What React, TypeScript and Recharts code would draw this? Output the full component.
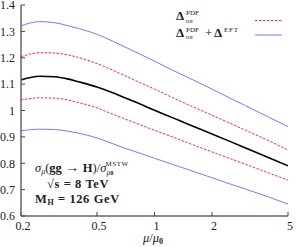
import { LineChart, Line, XAxis, YAxis } from "recharts";

const MU = [0.2, 0.25, 0.3, 0.35, 0.4, 0.5, 0.6, 0.7, 0.8, 1, 1.25, 1.5, 2, 2.5, 3, 4, 5];
const CENTRAL = [1.116, 1.13, 1.128, 1.12, 1.109, 1.089, 1.068, 1.048, 1.031, 1.001, 0.972, 0.948, 0.911, 0.882, 0.858, 0.82, 0.79];
const PDF_UP = [1.204, 1.219, 1.218, 1.211, 1.201, 1.178, 1.154, 1.132, 1.113, 1.081, 1.048, 1.022, 0.982, 0.951, 0.925, 0.884, 0.85];
const PDF_DOWN = [1.04, 1.048, 1.047, 1.04, 1.03, 1.01, 0.987, 0.968, 0.952, 0.925, 0.899, 0.877, 0.843, 0.817, 0.796, 0.762, 0.736];
const TOT_UP = [1.321, 1.337, 1.333, 1.322, 1.311, 1.289, 1.264, 1.241, 1.221, 1.187, 1.152, 1.125, 1.081, 1.046, 1.018, 0.973, 0.939];
const TOT_DOWN = [0.923, 0.929, 0.928, 0.922, 0.914, 0.896, 0.875, 0.857, 0.843, 0.819, 0.795, 0.776, 0.745, 0.721, 0.702, 0.671, 0.645];

const X_TICKS = [0.2, 0.5, 1, 2, 5];
const Y_TICKS = [0.6, 0.7, 0.8, 0.9, 1, 1.1, 1.2, 1.3, 1.4];

const RED = "#ff2a2a";
const BLUE = "#7878ff";
const FONT = "'Liberation Serif', serif";

const rows = MU.map((mu, i) => ({
  mu,
  central: CENTRAL[i],
  pdfUp: PDF_UP[i],
  pdfDown: PDF_DOWN[i],
  totUp: TOT_UP[i],
  totDown: TOT_DOWN[i],
}));

const tickStyle = { fontFamily: FONT, fontSize: 12, fill: "#222" };
const fmt = (v: number) => String(+v.toFixed(1));
const blank = () => "";

export default function App() {
  return (
    <div style={{ position: "absolute", left: 0, top: 0, width: 296, height: 247 }}>
      <LineChart
        width={296}
        height={247}
        data={rows}
        margin={{ top: 5, right: 8, bottom: 0, left: 0 }}
      >
        <XAxis
          dataKey="mu"
          type="number"
          scale="log"
          domain={[0.2, 5]}
          ticks={X_TICKS}
          allowDataOverflow
          interval={0}
          height={31}
          tickSize={-4}
          tickMargin={9}
          tickFormatter={fmt}
          tick={{ ...tickStyle, dx: 2 }}
          axisLine={{ stroke: "#666", strokeWidth: 1.5 }}
          tickLine={{ stroke: "#444" }}
        />
        <XAxis
          xAxisId="top"
          orientation="top"
          dataKey="mu"
          type="number"
          scale="log"
          domain={[0.2, 5]}
          ticks={X_TICKS}
          allowDataOverflow
          interval={0}
          height={0}
          tickSize={-4}
          tickFormatter={blank}
          axisLine={{ stroke: "#222", strokeWidth: 1 }}
          tickLine={{ stroke: "#444" }}
        />
        <YAxis
          type="number"
          domain={[0.6, 1.4]}
          ticks={Y_TICKS}
          allowDataOverflow
          interval={0}
          width={21}
          tickSize={-4}
          tickMargin={10}
          tickFormatter={fmt}
          tick={tickStyle}
          axisLine={{ stroke: "#666", strokeWidth: 1.5 }}
          tickLine={{ stroke: "#444" }}
        />
        <YAxis
          yAxisId="right"
          orientation="right"
          type="number"
          domain={[0.6, 1.4]}
          ticks={Y_TICKS}
          allowDataOverflow
          interval={0}
          width={0}
          tickSize={-4}
          tickFormatter={blank}
          axisLine={{ stroke: "#222", strokeWidth: 1 }}
          tickLine={{ stroke: "#444" }}
        />
        <Line dataKey="totUp" type="monotone" stroke={BLUE} strokeWidth={1} dot={false} isAnimationActive={false} />
        <Line dataKey="totDown" type="monotone" stroke={BLUE} strokeWidth={1} dot={false} isAnimationActive={false} />
        <Line dataKey="pdfUp" type="monotone" stroke={RED} strokeWidth={1} strokeDasharray="2.5 1.5" dot={false} isAnimationActive={false} />
        <Line dataKey="pdfDown" type="monotone" stroke={RED} strokeWidth={1} strokeDasharray="2.5 1.5" dot={false} isAnimationActive={false} />
        <Line dataKey="central" type="monotone" stroke="#000" strokeWidth={1.6} dot={false} isAnimationActive={false} />
      </LineChart>

      <svg
        width={296}
        height={247}
        style={{ position: "absolute", left: 0, top: 0, pointerEvents: "none" }}
        fontFamily={FONT}
        fill="#222"
      >
        {/* legend */}
        <text x={176} y={20} fontSize={13}>
          <tspan fontWeight="bold">Δ</tspan>
          <tspan x={186} dy={-5} fontSize={7}>PDF</tspan>
          <tspan x={186} dy={7.5} fontSize={6.5}>tot</tspan>
        </text>
        <line x1={255} x2={282} y1={20.5} y2={20.5} stroke={RED} strokeDasharray="2.5 1.5" />
        <text x={176} y={36.5} fontSize={13}>
          <tspan fontWeight="bold">Δ</tspan>
          <tspan x={186} dy={-5} fontSize={7}>PDF</tspan>
          <tspan x={186} dy={7.5} fontSize={6.5}>tot</tspan>
          <tspan x={205} dy={-2.5}>+</tspan>
          <tspan x={214} fontWeight="bold">Δ</tspan>
          <tspan x={224} dy={-5} fontSize={7} letterSpacing={0.8}>EFT</tspan>
        </text>
        <line x1={255} x2={282} y1={35} y2={35} stroke={BLUE} />

        {/* annotation */}
        <text x={35} y={172} fontSize={12.5}>
          <tspan fontStyle="italic">σ</tspan>
          <tspan dy={2} fontSize={8} fontStyle="italic">μ</tspan>
          <tspan dy={-2}>(</tspan>
          <tspan fontWeight="bold">gg</tspan>
          <tspan fontSize={14}> → </tspan>
          <tspan fontWeight="bold">H</tspan>
          <tspan>)/</tspan>
          <tspan fontStyle="italic">σ</tspan>
          <tspan dy={3} fontSize={7.5} fontStyle="italic">μ</tspan>
          <tspan fontSize={6.5} fontWeight="bold">0</tspan>
          <tspan dx={-8} dy={-9} fontSize={7} letterSpacing={0.6}>MSTW</tspan>
        </text>
        <text x={47} y={188} fontSize={12.5} fontWeight="bold" letterSpacing={0.6}>
          √s = 8 TeV
        </text>
        <text x={35} y={203} fontSize={12.5} fontWeight="bold" letterSpacing={0.6}>
          <tspan>M</tspan>
          <tspan dy={2} fontSize={8}>H</tspan>
          <tspan dy={-2}> = 126 GeV</tspan>
        </text>

        {/* x axis title */}
        <text x={143} y={242} fontSize={12.5}>
          <tspan fontStyle="italic">μ</tspan>
          <tspan>/</tspan>
          <tspan fontStyle="italic">μ</tspan>
          <tspan dy={2} fontSize={8} fontWeight="bold">0</tspan>
        </text>
      </svg>
    </div>
  );
}
